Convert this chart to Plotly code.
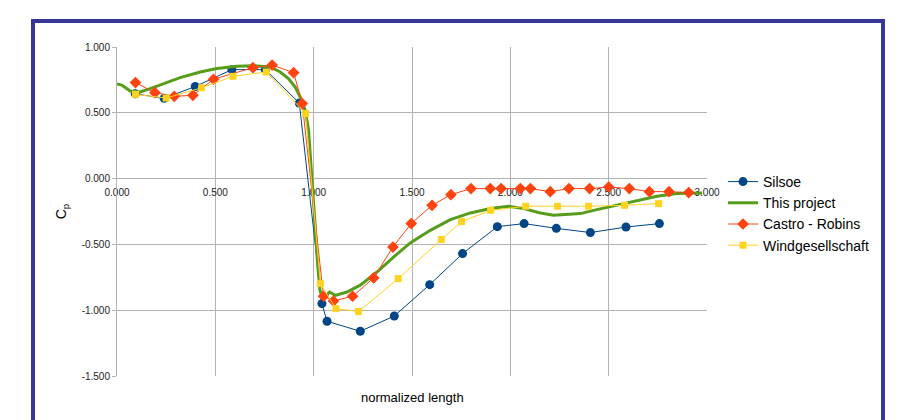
import plotly.graph_objects as go

# ---------------- data ----------------
silsoe_x = [0.093, 0.24, 0.398, 0.584, 0.754, 0.927, 1.042, 1.068, 1.237, 1.41,
            1.59, 1.757, 1.934, 2.07, 2.234, 2.407, 2.588, 2.758]
silsoe_y = [0.644, 0.61, 0.70, 0.828, 0.828, 0.574, -0.95, -1.084, -1.16, -1.044,
            -0.806, -0.57, -0.365, -0.342, -0.378, -0.41, -0.368, -0.342]

project_x = [0.0, 0.025, 0.067, 0.118, 0.169, 0.237, 0.321, 0.423, 0.508, 0.61,
             0.694, 0.779, 0.83, 0.872, 0.906, 0.932, 0.957, 0.974, 0.991, 1.005,
             1.02, 1.032, 1.045, 1.06, 1.081, 1.11, 1.169, 1.237, 1.322, 1.406,
             1.491, 1.593, 1.695, 1.797, 1.898, 1.991, 2.068, 2.153, 2.22, 2.288,
             2.356, 2.44, 2.542, 2.644, 2.746, 2.847, 2.949, 2.975]
project_y = [0.72, 0.71, 0.666, 0.658, 0.684, 0.722, 0.767, 0.81, 0.836, 0.853,
             0.858, 0.848, 0.81, 0.76, 0.696, 0.62, 0.519, 0.367, 0.038, -0.3,
             -0.65, -0.85, -0.905, -0.895, -0.862, -0.887, -0.862, -0.81, -0.71, -0.596,
             -0.489, -0.393, -0.312, -0.261, -0.228, -0.21, -0.228, -0.261, -0.279, -0.274,
             -0.266, -0.236, -0.203, -0.165, -0.134, -0.114, -0.109, -0.109]

castro_x = [0.094, 0.193, 0.291, 0.386, 0.491, 0.691, 0.789, 0.898, 0.942, 1.05,
            1.101, 1.198, 1.305, 1.403, 1.496, 1.602, 1.698, 1.80, 1.898, 1.953,
            2.051, 2.102, 2.203, 2.298, 2.403, 2.50, 2.605, 2.707, 2.807, 2.907]
castro_y = [0.73, 0.653, 0.625, 0.633, 0.755, 0.843, 0.863, 0.805, 0.57, -0.894,
            -0.93, -0.894, -0.755, -0.52, -0.342, -0.203, -0.122, -0.076, -0.076, -0.076,
            -0.076, -0.076, -0.099, -0.076, -0.076, -0.064, -0.076, -0.099, -0.099, -0.106]

wind_x = [0.094, 0.25, 0.43, 0.59, 0.759, 0.959, 1.034, 1.113, 1.228, 1.43,
          1.649, 1.752, 1.90, 2.078, 2.24, 2.398, 2.581, 2.754]
wind_y = [0.64, 0.612, 0.69, 0.777, 0.81, 0.494, -0.798, -0.988, -1.01, -0.76,
          -0.463, -0.327, -0.241, -0.21, -0.21, -0.21, -0.203, -0.19]

x_ticks = [0.0, 0.5, 1.0, 1.5, 2.0, 2.5, 3.0]
x_tick_labels = ["0.000", "0.500", "1.000", "1.500", "2.000", "2.500", "3.000"]
y_ticks = [1.0, 0.5, 0.0, -0.5, -1.0, -1.5]
y_tick_labels = ["1.000", "0.500", "0.000", "-0.500", "-1.000", "-1.500"]

# ---------------- layout geometry ----------------
# the page body adds an 8px offset; work in window pixels and convert
OFF = 8
WIN_W, WIN_H = 906, 420
W, H = WIN_W - OFF, WIN_H - OFF
PL, PR, PT, PB = 117, 707, 47, 376          # plot area in window pixels
ML, MR, MT, MB = PL - OFF, WIN_W - PR, PT - OFF, WIN_H - PB
PW, PH = PR - PL, PB - PT


def px(xw):
    return (xw - PL) / PW


def py(yw):
    return (PB - yw) / PH


FONT = "Liberation Sans, Arial, sans-serif"
GRID = "#b3b3b3"

fig = go.Figure()
fig.add_trace(go.Scatter(x=silsoe_x, y=silsoe_y, name="Silsoe", mode="lines+markers",
                         line=dict(color="#004586", width=1),
                         marker=dict(symbol="circle", size=9, color="#004586")))
fig.add_trace(go.Scatter(x=project_x, y=project_y, name="This project", mode="lines",
                         line=dict(color="#579d1c", width=3)))
fig.add_trace(go.Scatter(x=castro_x, y=castro_y, name="Castro - Robins", mode="lines+markers",
                         line=dict(color="#ff420e", width=1),
                         marker=dict(symbol="diamond", size=9, color="#ff420e")))
fig.add_trace(go.Scatter(x=wind_x, y=wind_y, name="Windgesellschaft", mode="lines+markers",
                         line=dict(color="#ffd320", width=1),
                         marker=dict(symbol="square", size=7, color="#ffd320")))

border = "#363697"
shapes = [
    dict(type="line", xref="paper", yref="paper", x0=px(33), x1=px(33), y0=py(21), y1=py(440),
         line=dict(color=border, width=4)),
    dict(type="line", xref="paper", yref="paper", x0=px(31), x1=px(885), y0=py(21), y1=py(21),
         line=dict(color=border, width=4)),
    dict(type="line", xref="paper", yref="paper", x0=px(883), x1=px(883), y0=py(21), y1=py(440),
         line=dict(color=border, width=4)),
]

fig.update_layout(
    width=W, height=H,
    margin=dict(l=ML, r=MR, t=MT, b=MB, pad=0),
    paper_bgcolor="white", plot_bgcolor="white",
    font=dict(family=FONT, color="#000000"),
    showlegend=True,
    legend=dict(x=px(723), y=py(166), xanchor="left", yanchor="top",
                font=dict(size=14, family=FONT, color="#000000"),
                bgcolor="rgba(0,0,0,0)", borderwidth=0),
    shapes=shapes,
    annotations=[dict(text="normalized length", xref="paper", yref="paper",
                      x=0.5, y=py(397), xanchor="center", yanchor="middle",
                      showarrow=False, font=dict(size=13, family=FONT, color="#000000"))],
    xaxis=dict(range=[0, 3], tickvals=x_ticks, ticktext=x_tick_labels,
               anchor="free", position=(0 - (-1.5)) / 2.5,
               showgrid=True, gridcolor=GRID, gridwidth=1,
               showline=False, zeroline=False, ticks="",
               tickfont=dict(size=10, family=FONT, color="#222222"),
               ticklabelstandoff=6, layer="below traces", fixedrange=True),
    yaxis=dict(range=[-1.5, 1.0], tickvals=y_ticks, ticktext=y_tick_labels,
               showgrid=True, gridcolor=GRID, gridwidth=1,
               showline=True, linecolor=GRID, linewidth=1,
               zeroline=False, ticks="outside", ticklen=4, tickcolor=GRID,
               tickfont=dict(size=10, family=FONT, color="#222222"),
               title=dict(text="C<sub>p</sub>", font=dict(size=14, family=FONT, color="#000000"),
                          standoff=11),
               fixedrange=True),
)

fig.write_html("out.html")
